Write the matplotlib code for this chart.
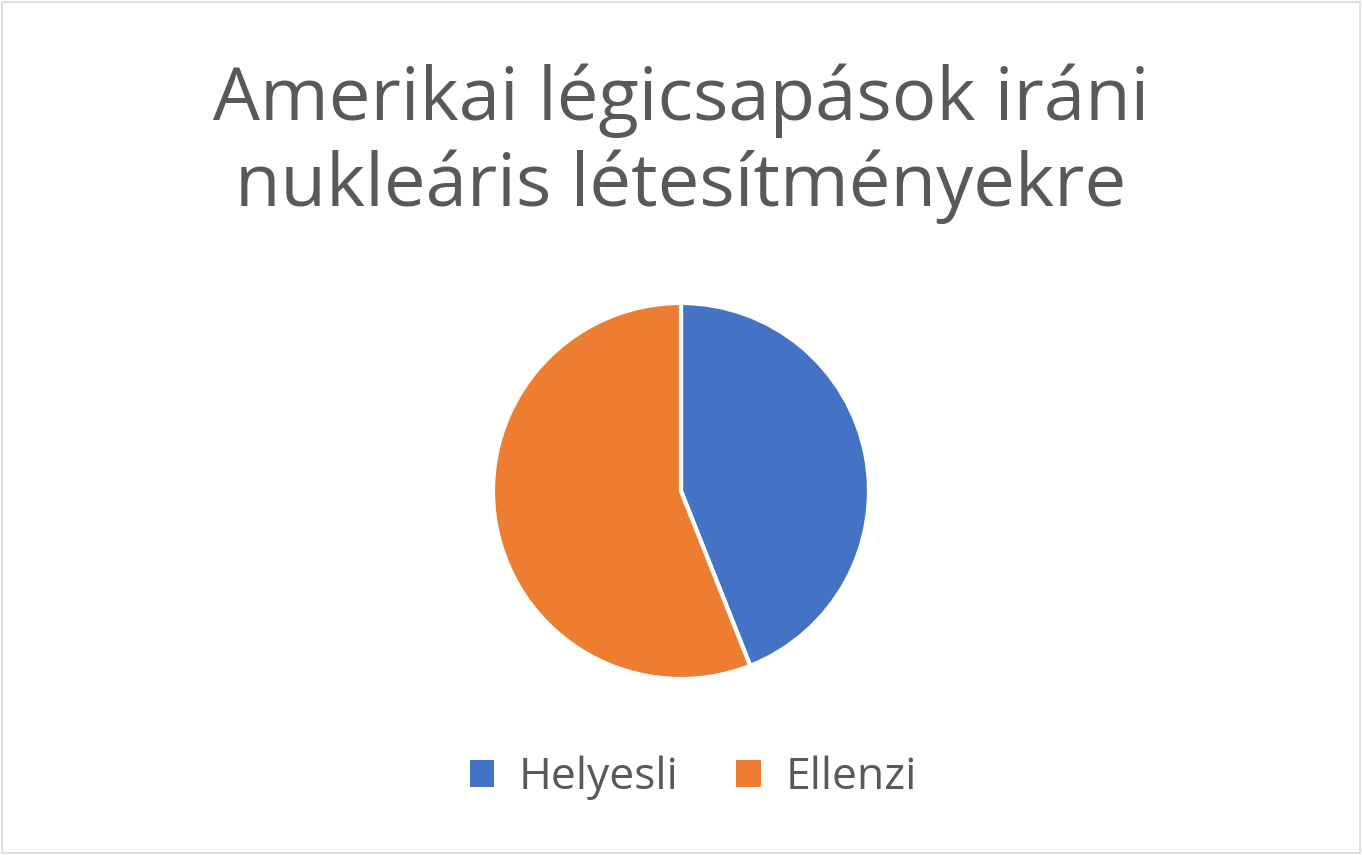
import matplotlib.pyplot as plt
from matplotlib.patches import Rectangle

labels = ['Helyesli', 'Ellenzi']
values = [44, 56]
colors = ['#4472C4', '#ED7D31']
title = 'Amerikai légicsapások iráni\nnukleáris létesítményekre'

plt.rcParams['font.family'] = ['Open Sans', 'DejaVu Sans']

fig = plt.figure(figsize=(13.62, 8.55), dpi=100)
fig.patches.append(Rectangle((0.0015, 0.002), 0.997, 0.996, transform=fig.transFigure,
                             fill=False, edgecolor='#D9D9D9', linewidth=1.2))

# pie centre ~ (681, 491), radius ~187 px
r = 188
ax = fig.add_axes([(681 - r) / 1362, (855 - 491 - r) / 855, 2 * r / 1362, 2 * r / 855])
wedges, _ = ax.pie(values, colors=colors, startangle=90, counterclock=False,
                   wedgeprops=dict(edgecolor='white', linewidth=3), radius=1.0)
ax.set_xlim(-1, 1)
ax.set_ylim(-1, 1)
ax.set_aspect('auto')

fig.text(0.5, 1 - 144 / 855, title, ha='center', va='center', fontsize=53.5,
         color='#595959', linespacing=1.2)

leg = fig.legend(wedges, labels, loc='center', bbox_to_anchor=(0.509, 1 - 778 / 855),
                 ncol=2, frameon=False, fontsize=32, labelcolor='#595959',
                 handlelength=0.55, handleheight=0.55, handletextpad=0.55,
                 columnspacing=1.3)
for h in leg.legend_handles:
    h.set_edgecolor('none')

fig.savefig('out.png', dpi=100)
